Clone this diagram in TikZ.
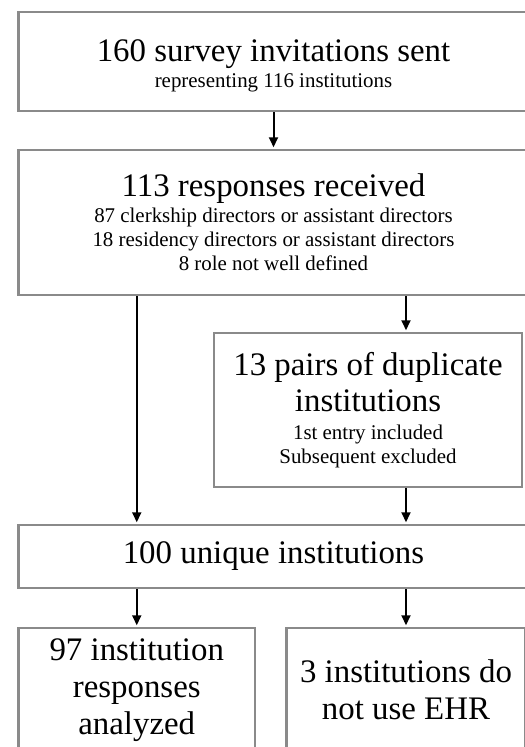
\documentclass[tikz,border=0pt]{standalone}
\usepackage{fontspec}
\setmainfont{Liberation Serif}
\usetikzlibrary{arrows.meta}
\definecolor{boxgray}{RGB}{138,138,138}
\newcommand{\bigline}{\fontsize{33}{37}\selectfont}
\newcommand{\smallline}{\fontsize{21}{24}\selectfont}
\tikzset{
	flowbox/.style={draw=boxgray, line width=2.5bp, align=center, inner sep=0pt},
	flowarrow/.style={-{Triangle[length=10bp,width=9bp]}, line width=2bp, shorten >=1.5bp}
}
\begin{document}
\begin{tikzpicture}[x=1bp,y=-1bp]
			\useasboundingbox (0,0) rectangle (525,747);
			\clip (0,0) rectangle (525,747);
			%
			\node[flowbox, font=\smallline, minimum width=510bp, minimum height=99bp] (sent) at (273.5, 61.5)
				{{\bigline\rule{0pt}{30bp}160 survey invitations sent}\\[2pt] representing 116 institutions};
			\node[flowbox, font=\smallline, minimum width=510bp, minimum height=145bp] (received) at (273.5, 222.5)
				{{\bigline 113 responses received}\\[2pt] 87 clerkship directors or assistant directors\\ 18 residency directors or assistant directors\\ 8 role not well defined};
			\node[flowbox, font=\smallline, minimum width=308bp, minimum height=154bp] (dup) at (368, 410)
				{{\bigline 13 pairs of duplicate}\\[7pt] {\bigline institutions}\\[4pt] 1st entry included\\ Subsequent excluded};
			\node[flowbox, font=\bigline, minimum width=510bp, minimum height=63bp] (unique) at (273.5, 556.5)
				{100 unique institutions};
			\node[flowbox, font=\bigline, minimum width=236.5bp, minimum height=124bp] (analyzed) at (136.75, 690)
				{97 institution\\ responses\\ analyzed};
			\node[flowbox, font=\bigline, minimum width=239bp, minimum height=124bp] (noehr) at (406, 690)
				{3 institutions do\\ not use EHR};
			%
			\draw[flowarrow] (sent) -- (received);
			\foreach \from/\to/\col in {received/dup/noehr, dup/unique/noehr, received/unique/analyzed, unique/analyzed/analyzed, unique/noehr/noehr}
			{	\draw[flowarrow] (\from.south -| \col) -- (\to.north -| \col);
			}
			%
\end{tikzpicture}
\end{document}
